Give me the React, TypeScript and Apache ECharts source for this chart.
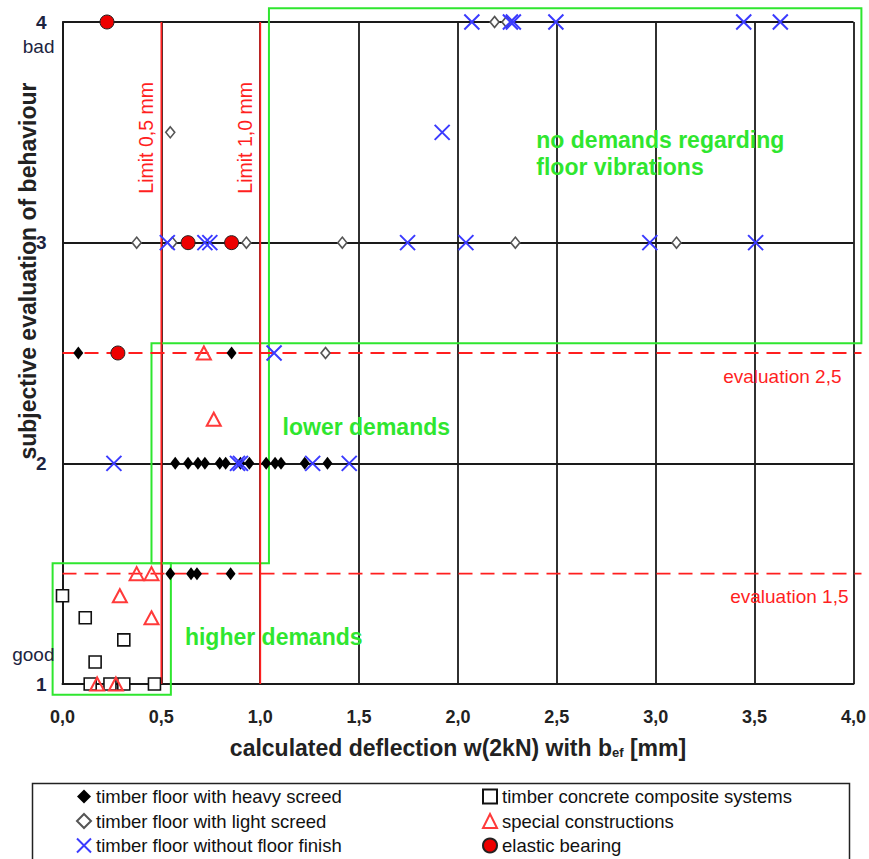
import React, { useEffect, useRef } from 'react';
import * as echarts from 'echarts';

// ---------- data (deflection [mm], subjective evaluation) ----------
const heavyScreed: [number, number][] = [
  [0.08, 2.5], [0.855, 2.5],
  [0.57, 2], [0.635, 2], [0.685, 2], [0.72, 2], [0.795, 2], [0.825, 2], [0.9, 2], [0.945, 2],
  [1.03, 2], [1.075, 2], [1.105, 2], [1.225, 2], [1.34, 2],
  [0.545, 1.5], [0.65, 1.5], [0.68, 1.5], [0.85, 1.5],
];
const lightScreed: [number, number][] = [
  [2.185, 4], [2.245, 4], [0.545, 3.5],
  [0.375, 3], [0.555, 3], [0.93, 3], [1.415, 3], [2.29, 3], [3.105, 3],
  [1.33, 2.5],
];
const noFloorFinish: [number, number][] = [
  [2.07, 4], [2.265, 4], [2.28, 4], [2.495, 4], [3.445, 4], [3.63, 4],
  [1.92, 3.5],
  [0.53, 3], [0.72, 3], [0.745, 3], [1.745, 3], [2.04, 3], [2.97, 3], [3.505, 3],
  [1.07, 2.5],
  [0.26, 2], [0.885, 2], [0.9, 2], [1.265, 2], [1.45, 2],
];
const compositeSystems: [number, number][] = [
  [0.0, 1.4], [0.115, 1.3], [0.31, 1.2], [0.165, 1.1],
  [0.14, 1], [0.24, 1], [0.31, 1], [0.465, 1],
];
const specialConstructions: [number, number][] = [
  [0.715, 2.5], [0.765, 2.2], [0.375, 1.5], [0.45, 1.5], [0.29, 1.4], [0.45, 1.3], [0.175, 1], [0.27, 1],
];
const elasticBearing: [number, number][] = [
  [0.225, 4], [0.635, 3], [0.855, 3], [0.28, 2.5],
];

const seriesNames = [
  'timber floor with heavy screed',
  'timber floor with light screed',
  'timber floor without floor finish',
  'timber concrete composite systems',
  'special constructions',
  'elastic bearing',
];

const xTicks = [0, 0.5, 1, 1.5, 2, 2.5, 3, 3.5, 4];
const yTicks = [1, 2, 3, 4];

// limit lines and evaluation levels (data space)
const limitLines = [0.5, 1.0];
const limitLabels = ['Limit 0,5 mm', 'Limit 1,0 mm'];
const evaluationLevels = [2.5, 1.5];
const evaluationLabels = ['evaluation 2,5', 'evaluation 1,5'];

// demand zones: [x0, x1, y0, y1]
const zones: [number, number, number, number][] = [
  [1.044, 4.04, 2.544, 4.062],
  [0.45, 1.044, 1.547, 2.544],
  [-0.05, 0.548, 0.951, 1.547],
];
const zoneLabels = ['no demands regarding\nfloor vibrations', 'lower demands', 'higher demands'];
const zoneLabelAnchors: [number, number][] = [[2.396, 3.404], [1.113, 2.165], [0.619, 1.213]];

const FONT = '"Liberation Sans", Arial, Helvetica, sans-serif';
const RED = '#ff1f1f';
const GREEN = '#2fe62f';
const BLUE = '#3b3bff';
const AXIS = '#1a1a1a';

const X_PATH = 'path://M0,0L10,10M10,0L0,10';

export default function App() {
  const ref = useRef<HTMLDivElement>(null);
  useEffect(() => {
    const chart = echarts.init(ref.current!, null, { renderer: 'svg' });

    const renderAnnotations = (params: any, api: any) => {
      const c = (x: number, y: number) => api.coord([x, y]);
      const children: any[] = [];
      zones.forEach((z) => {
        const p1 = c(z[0], z[3]);
        const p2 = c(z[1], z[2]);
        children.push({
          type: 'rect',
          shape: { x: p1[0], y: p1[1], width: p2[0] - p1[0], height: p2[1] - p1[1] },
          style: { fill: 'none', stroke: GREEN, lineWidth: 2 },
        });
      });
      limitLines.forEach((v, i) => {
        const a = c(v, yTicks[0]);
        const b = c(v, yTicks[yTicks.length - 1]);
        children.push({
          type: 'line',
          shape: { x1: a[0], y1: a[1], x2: b[0], y2: b[1] },
          style: { stroke: RED, lineWidth: 1.8 },
        });
        const t = c(v, 3.475);
        children.push({
          type: 'text',
          x: t[0] - 15,
          y: t[1],
          rotation: Math.PI / 2,
          style: {
            text: limitLabels[i], fill: RED, fontSize: 19.5, fontFamily: FONT,
            align: 'center', verticalAlign: 'middle',
          },
        });
      });
      evaluationLevels.forEach((v, i) => {
        const a = c(xTicks[0], v);
        const b = c(xTicks[xTicks.length - 1], v);
        children.push({
          type: 'line',
          shape: { x1: a[0], y1: a[1], x2: b[0] + 8, y2: b[1] },
          style: { stroke: RED, lineWidth: 1.8, lineDash: [14, 8] },
        });
        const t = c(xTicks[xTicks.length - 1], v);
        children.push({
          type: 'text',
          x: t[0] - (i === 0 ? 12 : 5),
          y: t[1] + 23,
          style: {
            text: evaluationLabels[i], fill: RED, fontSize: 19, fontFamily: FONT,
            align: 'right', verticalAlign: 'middle',
          },
        });
      });
      zoneLabels.forEach((s, i) => {
        const p = c(zoneLabelAnchors[i][0], zoneLabelAnchors[i][1]);
        children.push({
          type: 'text',
          x: p[0],
          y: p[1],
          style: {
            text: s, fill: GREEN, fontSize: 23, fontWeight: 'bold', fontFamily: FONT,
            align: 'left', verticalAlign: 'middle', lineHeight: 27,
          },
        });
      });
      // "bad" / "good" beside the y-axis
      const top = c(xTicks[0], yTicks[yTicks.length - 1]);
      const bottom = c(xTicks[0], yTicks[0]);
      children.push({
        type: 'text', x: top[0] - 8, y: top[1] + 24,
        style: { text: 'bad', fill: '#1d2440', fontSize: 19, fontFamily: FONT, align: 'right', verticalAlign: 'middle' },
      });
      children.push({
        type: 'text', x: bottom[0] - 8, y: bottom[1] - 30,
        style: { text: 'good', fill: '#1d2440', fontSize: 19, fontFamily: FONT, align: 'right', verticalAlign: 'middle' },
      });
      return { type: 'group', children };
    };

    const scatterBase = { type: 'scatter', clip: false, z: 3 };
    const legendBase = {
      top: 787, orient: 'vertical', itemGap: 5.5, itemWidth: 14, itemHeight: 14, height: 72,
      padding: 0,
      selectedMode: false,
      textStyle: { fontSize: 18.5, color: '#111', fontFamily: FONT, lineHeight: 18 },
    };

    const option: any = {
      animation: false,
      backgroundColor: '#fff',
      textStyle: { fontFamily: FONT },
      grid: { left: 62.5, right: 14.3, top: 22, bottom: 175, containLabel: false },
      xAxis: {
        type: 'value',
        min: xTicks[0],
        max: xTicks[xTicks.length - 1],
        interval: 0.5,
        name: 'calculated deflection w(2kN) with b{sub|ef} [mm]',
        nameLocation: 'middle',
        nameGap: 52,
        nameTextStyle: {
          fontSize: 23, fontWeight: 'bold', color: '#222', fontFamily: FONT,
          rich: { sub: { fontSize: 13, fontWeight: 'bold', color: '#222', fontFamily: FONT, padding: [10, 0, 0, 0] } },
        },
        axisLine: { show: true, onZero: false, lineStyle: { color: AXIS, width: 2 } },
        axisTick: { show: false },
        axisLabel: {
          margin: 24, fontSize: 18, fontWeight: 'bold', color: '#222', fontFamily: FONT,
          formatter: (v: number) => v.toFixed(1).replace('.', ','),
        },
        splitLine: { show: true, lineStyle: { color: AXIS, width: 1.8 } },
      },
      yAxis: {
        type: 'value',
        min: yTicks[0],
        max: yTicks[yTicks.length - 1],
        interval: 1,
        axisLine: { show: true, onZero: false, lineStyle: { color: AXIS, width: 2 } },
        axisTick: { show: false },
        axisLabel: { margin: 16, fontSize: 19, fontWeight: 'bold', color: '#1d2440', fontFamily: FONT },
        splitLine: { show: true, lineStyle: { color: AXIS, width: 1.8 } },
      },
      legend: [
        { ...legendBase, left: 76, data: seriesNames.slice(0, 3) },
        { ...legendBase, left: 482, data: seriesNames.slice(3) },
      ],
      graphic: [
        {
          type: 'rect', left: 30, top: 781, silent: true,
          shape: { width: 817, height: 100 },
          style: { fill: 'none', stroke: '#222', lineWidth: 1.5 },
        },
        {
          type: 'text', x: 28, y: 271, rotation: Math.PI / 2, silent: true,
          style: {
            text: 'subjective evaluation of behaviour', fill: '#222', fontSize: 23, fontWeight: 'bold',
            fontFamily: FONT, align: 'center', verticalAlign: 'middle',
          },
        },
      ],
      series: [
        {
          type: 'custom', name: 'annotations', coordinateSystem: 'cartesian2d', clip: false, silent: true, z: 1,
          data: [[0, 1]],
          renderItem: renderAnnotations,
        },
        {
          ...scatterBase, name: seriesNames[1], data: lightScreed, symbol: 'diamond', symbolSize: [9, 11],
          itemStyle: { color: '#fff', borderColor: '#555', borderWidth: 1.6, opacity: 1 },
        },
        {
          ...scatterBase, name: seriesNames[0], data: heavyScreed, symbol: 'diamond', symbolSize: [10, 13],
          itemStyle: { color: '#000', opacity: 1 },
        },
        {
          ...scatterBase, name: seriesNames[3], data: compositeSystems, symbol: 'rect', symbolSize: 12,
          itemStyle: { color: '#fff', borderColor: '#111', borderWidth: 1.6, opacity: 1 },
        },
        {
          ...scatterBase, name: seriesNames[4], data: specialConstructions, symbol: 'triangle', symbolSize: [14, 13],
          itemStyle: { color: 'rgba(255,255,255,0)', borderColor: '#ff3a3a', borderWidth: 2, opacity: 1 },
        },
        {
          ...scatterBase, name: seriesNames[2], data: noFloorFinish, symbol: X_PATH, symbolSize: 15,
          itemStyle: { color: 'rgba(255,255,255,0)', borderColor: BLUE, borderWidth: 2, opacity: 1 },
        },
        {
          ...scatterBase, name: seriesNames[5], data: elasticBearing, symbol: 'circle', symbolSize: 14,
          itemStyle: { color: '#ee0000', borderColor: '#222', borderWidth: 1, opacity: 1 },
        },
      ],
    };
    chart.setOption(option);
    return () => chart.dispose();
  }, []);
  return (
    <div
      ref={ref}
      style={{ position: 'fixed', left: 0, top: 0, width: 869, height: 859, background: '#fff' }}
    />
  );
}
